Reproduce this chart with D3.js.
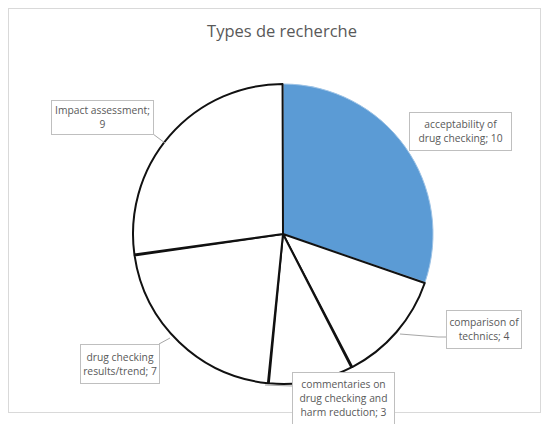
<!DOCTYPE html>
<html><head><meta charset="utf-8">
<script src="https://cdn.jsdelivr.net/npm/d3@7"></script>
<style>body{margin:0;background:#fff;} svg{display:block;}</style>
</head><body>
<script>
const categories = ["acceptability of drug checking", "comparison of technics", "commentaries on drug checking and harm reduction", "drug checking results/trend", "impact assessment"];
const values = [10, 4, 3, 7, 9];
const labelLines = [
  ["acceptability of", "drug checking; 10"],
  ["comparison of", "technics; 4"],
  ["commentaries on", "drug checking and", "harm reduction; 3"],
  ["drug checking", "results/trend; 7"],
  ["Impact assessment;", "9"]
];
const title = "Types de recherche";

const W = 546, H = 424;
const svg = d3.select("body").append("svg").attr("width", W).attr("height", H);
svg.append("rect").attr("x", 8.5).attr("y", 8.5).attr("width", 532).attr("height", 404)
  .attr("fill", "#fff").attr("stroke", "#d9d9d9");

svg.append("text").attr("x", 282).attr("y", 37).attr("text-anchor", "middle")
  .attr("font-family", "Open Sans, Liberation Sans, sans-serif").attr("font-size", 16.5)
  .attr("fill", "#595959").text(title);

const cx = 283, cy = 234, r = 150;
const pie = d3.pie().sort(null).value(d => d).padAngle(0.006);
const arcs = pie(values);
const arc = d3.arc().innerRadius(0).outerRadius(r);
const g = svg.append("g").attr("transform", `translate(${cx},${cy})`);
g.selectAll("path").data(arcs).join("path")
  .attr("d", arc)
  .attr("fill", (d, i) => i === 0 ? "#5b9bd5" : "#ffffff")
  .attr("stroke", (d, i) => i === 0 ? "#9dc3e6" : "#111")
  .attr("stroke-width", (d, i) => i === 0 ? 1 : 2)
  .attr("stroke-linejoin", "round");

const boxes = [
  {x: 409, y: 112, w: 102, h: 38},
  {x: 446, y: 310, w: 75, h: 38},
  {x: 292, y: 372, w: 102, h: 52},
  {x: 80, y: 344, w: 79, h: 39},
  {x: 51, y: 100, w: 102, h: 34}
];
const leaders = [
  null,
  [[400, 334], [438, 337], [446, 337]],
  [[265, 385], [292, 386]],
  [[170, 338], [159, 344]],
  [[165, 143], [153, 134]]
];
const lg = svg.append("g");
leaders.forEach(l => {
  if (!l) return;
  lg.append("path").attr("d", d3.line()(l)).attr("fill", "none").attr("stroke", "#a6a6a6").attr("stroke-width", 1);
});
boxes.forEach((b, i) => {
  const bg = svg.append("g");
  bg.append("rect").attr("x", b.x + 0.5).attr("y", b.y + 0.5).attr("width", b.w).attr("height", b.h)
    .attr("fill", "#fff").attr("stroke", "#bfbfbf");
  const lines = labelLines[i];
  const lh = 14;
  const startY = b.y + b.h / 2 - (lines.length - 1) * lh / 2 + 4;
  lines.forEach((t, j) => {
    bg.append("text").attr("x", b.x + b.w / 2 + 0.5).attr("y", startY + j * lh)
      .attr("text-anchor", "middle").attr("font-family", "Open Sans, Liberation Sans, sans-serif")
      .attr("font-size", 10.3).attr("fill", "#595959").text(t);
  });
});
</script>
</body></html>
